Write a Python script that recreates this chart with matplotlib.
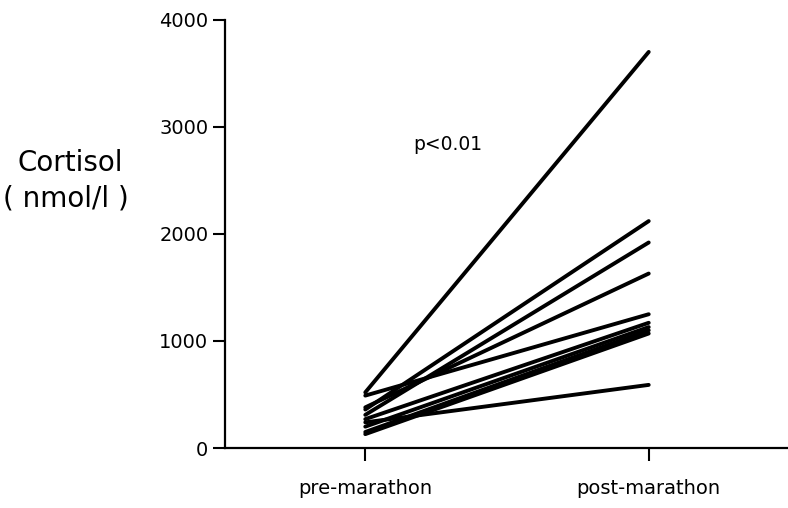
import matplotlib
matplotlib.use('Agg')
import matplotlib.pyplot as plt

# cortisol per runner, before and after the race (nmol/l)
grupos = ['pre-marathon', 'post-marathon']
pre = [520, 360, 310, 380, 490, 270, 240, 200, 150, 130]
post = [3700, 2120, 1920, 1630, 1250, 1170, 590, 1130, 1100, 1070]
yticks = [0, 1000, 2000, 3000, 4000]

fig = plt.figure(figsize=(7.88, 5.08), dpi=100)
ax = fig.add_axes([0.2855, 0.118, 0.714, 0.843])

for a, b in zip(pre, post):
    ax.plot([0, 1], [a, b], color='black', linewidth=2.8, solid_capstyle='round')

ax.set_ylim(0, 4000)
ax.set_xticks([0, 1])
ax.set_xticklabels(grupos, fontsize=14)
ax.set_yticks(yticks)
ax.set_yticklabels([str(v) for v in yticks], fontsize=14)

for lado in ['top', 'right']:
    ax.spines[lado].set_visible(False)
for lado in ['left', 'bottom']:
    ax.spines[lado].set_linewidth(1.6)
ax.set_xlim(-0.495, 1.49)

ax.tick_params(axis='y', direction='out', length=9, width=1.5, pad=3)
ax.tick_params(axis='x', direction='out', length=9, width=1.5, pad=13)

fig.text(70 / 788, 1 - 163 / 508, 'Cortisol', fontsize=20, ha='center', va='center')
fig.text(66 / 788, 1 - 198 / 508, '( nmol/l )', fontsize=20, ha='center', va='center')
ax.text(0.29, 2840, 'p<0.01', fontsize=13.5, ha='center', va='center')

fig.savefig('out.png', dpi=100)
